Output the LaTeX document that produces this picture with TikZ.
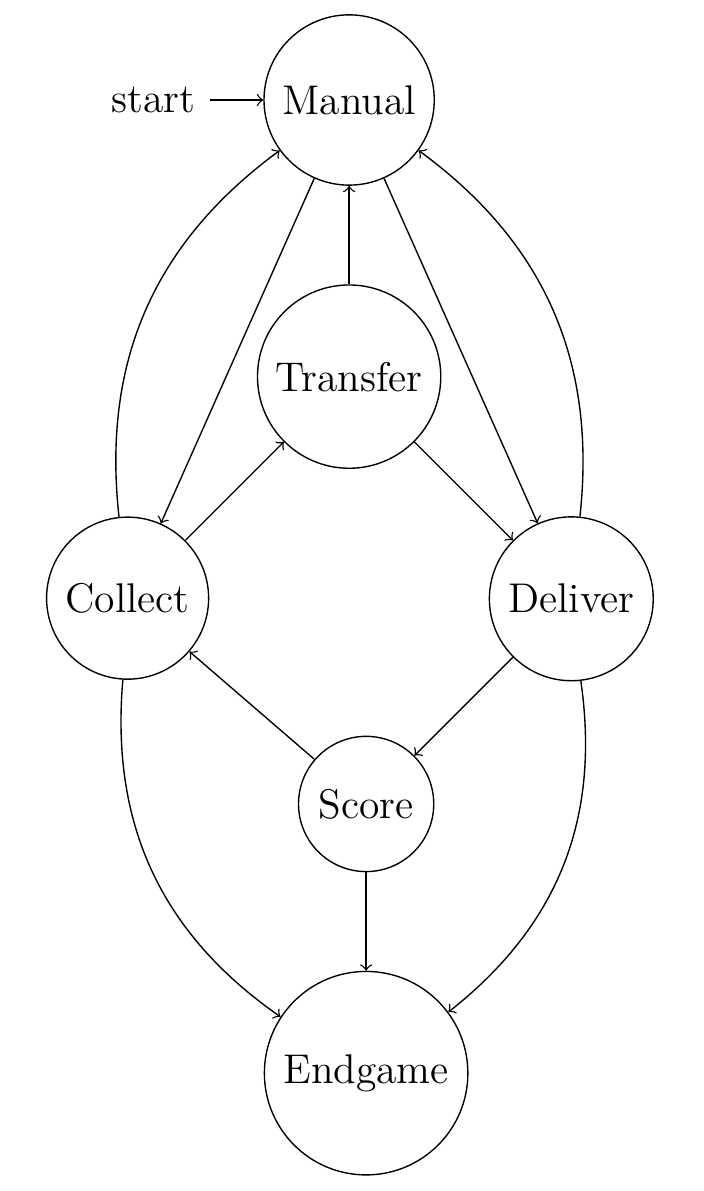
\documentclass[12pt,tikz,border=0pt]{standalone}
\usetikzlibrary{automata,positioning}

\begin{document}
\begin{tikzpicture}[node distance=1cm and 1cm, ->]
  \useasboundingbox (-100.9pt,28.9pt) rectangle (102.3pt,-315.3pt);
  \node[state, initial] (manual) {Manual};
  \node[state, below=of manual] (transfer) {Transfer};
  \node[state, below left=of transfer] (collect) {Collect};
  \node[state, below right=of transfer] (deliver) {Deliver};
  \node[state, below left=of deliver] (score) {Score};
  \node[state, below=of score] (endgame) {Endgame};

  \path (manual) edge (collect)
                 edge (deliver)
        (transfer) edge (manual)
                   edge (deliver)
        (collect) edge (transfer)
                  edge[bend left] (manual)
                  edge[bend right] (endgame)
        (deliver) edge[bend right] (manual)
                  edge (score)
                  edge[bend left] (endgame)
        (score) edge (collect)
                edge (endgame);
\end{tikzpicture}
\end{document}
